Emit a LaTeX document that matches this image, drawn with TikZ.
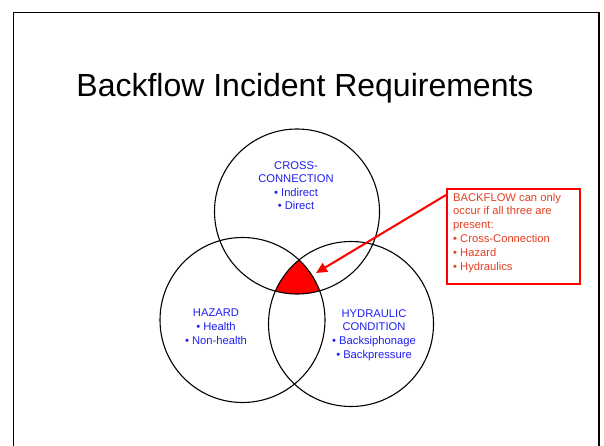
\documentclass[tikz,border=0pt]{standalone}
\usepackage{fontspec}
\setmainfont{Liberation Sans}
\usetikzlibrary{arrows.meta}
\definecolor{labelblue}{RGB}{30,30,245}
\definecolor{notetext}{RGB}{228,62,32}
\begin{document}
\begin{tikzpicture}[x=1pt,y=-1pt,
  ring/.style={draw=black,line width=1.1pt,circle,minimum size=165pt,inner sep=0pt},
  bluelabel/.style={text=labelblue,font=\fontsize{11.2}{13.6}\selectfont,align=center,inner sep=0pt},
  notebox/.style={draw=red,line width=2pt,inner sep=0pt,minimum width=133pt,minimum height=95pt}]
\useasboundingbox (0,0) rectangle (604,446);
% slide frame
\draw[line width=1.3pt] (13.5,450) -- (13.5,12.5) -- (599,12.5) -- (599,450);
% title
\node[font=\fontsize{32}{38}\selectfont,anchor=base] (title) at (305,97) {Backflow Incident Requirements};
% circle centres
\coordinate (cTop) at (297,211.5);
\coordinate (cLeft) at (242.5,320);
\coordinate (cRight) at (351,324);
% region shared by all three
\begin{scope}
  \clip (cTop) circle (82.5pt);
  \clip (cLeft) circle (82.5pt);
  \fill[red] (cRight) circle (82.5pt);
\end{scope}
\node[ring] (cross) at (cTop) {};
\node[ring] (hazard) at (cLeft) {};
\node[ring] (hydraulic) at (cRight) {};
% labels (base = baseline of the last line)
\node[bluelabel,anchor=base] (crossText) at (296,210) {CROSS-\\CONNECTION\\• Indirect\\• Direct};
\node[bluelabel,anchor=base] (hazardText) at (216,344) {HAZARD\\• Health\\• Non-health};
\node[bluelabel,anchor=base] (hydraulicText) at (374,358) {HYDRAULIC\\CONDITION\\• Backsiphonage\\• Backpressure};
% note
\node[notebox,anchor=north west] (note) at (446,188) {};
\node[text=notetext,font=\fontsize{11.2}{13.8}\selectfont,align=left,inner sep=0pt,anchor=base west] (noteText) at (453,270) {BACKFLOW can only\\occur if all three are\\present:\\• Cross-Connection\\• Hazard\\• Hydraulics};
\coordinate (tip) at (316,273);
\draw[red,line width=2pt,-{Triangle[length=11pt,width=10pt]}] (note.west |- 0,195) -- (tip);
\end{tikzpicture}
\end{document}
